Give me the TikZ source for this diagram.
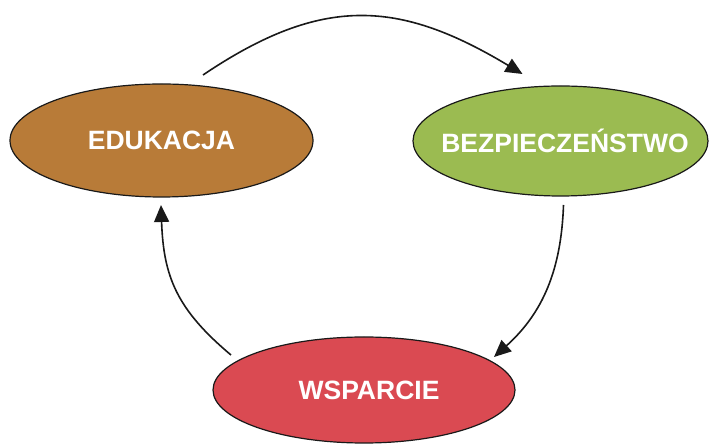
\documentclass[tikz,border=0pt]{standalone}
\usepackage{fontspec}
\setmainfont{Liberation Sans}
\usetikzlibrary{arrows.meta, calc, shapes.geometric}
\definecolor{eduBrown}{RGB}{184,123,56}
\definecolor{bezGreen}{RGB}{155,187,81}
\definecolor{wspRed}{RGB}{218,74,82}
\tikzset{
	blob/.style={
		ellipse, draw=black!90, line width=1.2pt,
		inner xsep=-60pt, inner ysep=0pt, outer sep=0pt,
		text=white, font=\bfseries\fontsize{26.5}{30}\selectfont
	},
	cycle arrow/.style={-{Triangle[length=17pt,width=15pt]}, line width=1.6pt, black!90}
}

\begin{document}
\begin{tikzpicture}[x=1pt,y=1pt]
	\useasboundingbox (0,0) rectangle (710,444);

	\node[blob, fill=eduBrown, minimum width=303pt, minimum height=113pt]	(edu) at (161.5,303.5) {EDUKACJA};
	\node[blob, fill=bezGreen, minimum width=295pt, minimum height=110pt]	(bez) at (560.5,303) {\hspace{9pt}BEZPIECZEŃSTWO};
	\node[blob, fill=wspRed, minimum width=302pt, minimum height=106pt]	(wsp) at (364,54) {\hspace{10pt}WSPARCIE};

	% ends of the arrows, just off the ellipses
	\coordinate (eduTop)	at ($(edu.north)+(41.5,9)$);
	\coordinate (bezTop)	at ($(bez.north)+(-38,12)$);
	\coordinate (bezLow)	at ($(bez.south)+(3,-9)$);
	\coordinate (wspTop)	at ($(wsp.north)+(130,-20)$);
	\coordinate (wspLeft)	at ($(wsp.north)+(-133,-18)$);
	\coordinate (eduLow)	at ($(edu.south)+(-0.5,-8)$);

	\draw[cycle arrow] (eduTop) to[out=34,in=149,looseness=1.15] (bezTop);
	\draw[cycle arrow] (bezLow) to[out=-92,in=42] (wspTop);
	\draw[cycle arrow] (wspLeft) to[out=140,in=-88,looseness=1.1] (eduLow);

\end{tikzpicture}
\end{document}
